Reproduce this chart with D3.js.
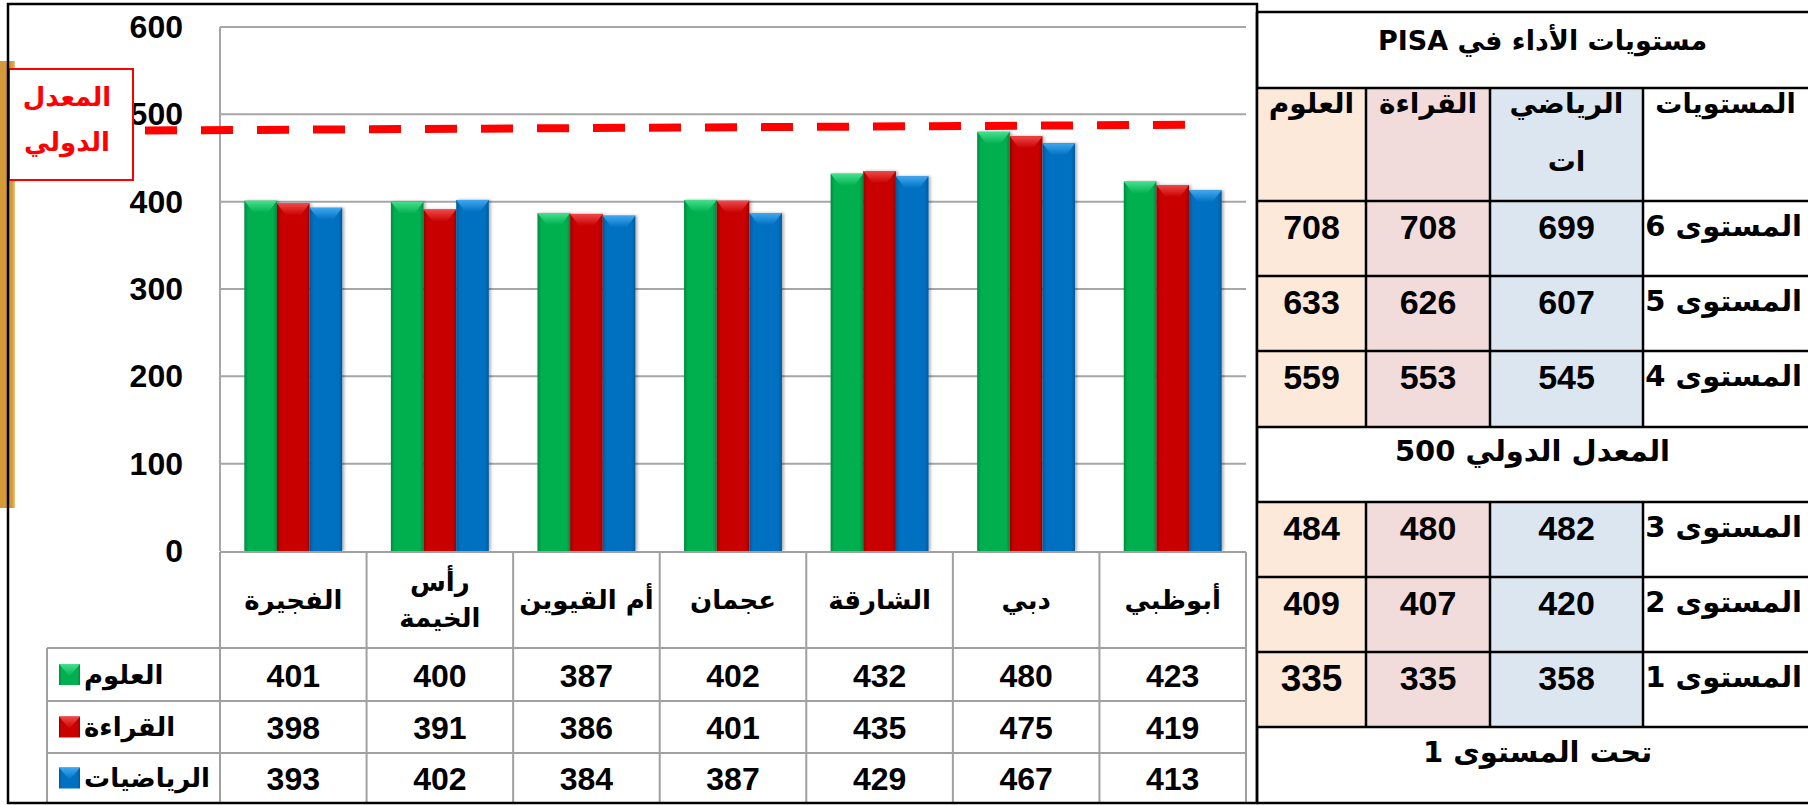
<!DOCTYPE html>
<html lang="ar">
<head>
<meta charset="utf-8">
<script src="https://cdn.jsdelivr.net/npm/d3@7"></script>
<style>
  html, body { margin: 0; padding: 0; background: #ffffff; }
  svg { display: block; }
  .num { font-family: "Liberation Sans", Arial, sans-serif; font-weight: bold; }
  .ar { font-family: "DejaVu Sans", "Noto Sans", sans-serif; font-weight: bold; }
</style>
</head>
<body>
<svg id="chart" width="1808" height="805"></svg>
<script>
// ---------------- DATA ----------------
const categories = ["الفجيرة", "رأس الخيمة", "أم القيوين", "عجمان", "الشارقة", "دبي", "أبوظبي"];
const categoryLabelLines = [["الفجيرة"], ["رأس", "الخيمة"], ["أم القيوين"], ["عجمان"], ["الشارقة"], ["دبي"], ["أبوظبي"]];
const seriesNames = ["العلوم", "القراءة", "الرياضيات"];
const scienceValues = [401, 400, 387, 402, 432, 480, 423];
const readingValues = [398, 391, 386, 401, 435, 475, 419];
const mathValues = [393, 402, 384, 387, 429, 467, 413];
const yTicks = [0, 100, 200, 300, 400, 500, 600];
const avgLineValues = [481.5, 488];   // hand-drawn "international average" dashed line (left end, right end)
const avgLabelLines = ["المعدل", "الدولي"];

const pisaTitle = "مستويات الأداء في PISA";
const pisaColumns = ["العلوم", "القراءة", "الرياضيات", "المستويات"];
const levelNames = ["المستوى 6", "المستوى 5", "المستوى 4", "المستوى 3", "المستوى 2", "المستوى 1"];
const levelScience = [708, 633, 559, 484, 409, 335];
const levelReading = [708, 626, 553, 480, 407, 335];
const levelMath = [699, 607, 545, 482, 420, 358];
const pisaAverageText = "المعدل الدولي 500";
const pisaBelowText = "تحت المستوى 1";

// ---------------- SETUP ----------------
const svg = d3.select("#chart");
const series = [
  { name: seriesNames[0], values: scienceValues, base: "#00B050", dark: "#00893F", light: "#45E08C" },
  { name: seriesNames[1], values: readingValues, base: "#C80000", dark: "#9A0000", light: "#F04848" },
  { name: seriesNames[2], values: mathValues, base: "#0070C0", dark: "#005A9C", light: "#40A8F0" }
];

const defs = svg.append("defs");
series.forEach((s, i) => {
  const g = defs.append("linearGradient").attr("id", "bar" + i).attr("x1", 0).attr("x2", 1).attr("y1", 0).attr("y2", 0);
  g.append("stop").attr("offset", "0%").attr("stop-color", s.dark);
  g.append("stop").attr("offset", "12%").attr("stop-color", s.base);
  g.append("stop").attr("offset", "88%").attr("stop-color", s.base);
  g.append("stop").attr("offset", "100%").attr("stop-color", s.dark);
  const t = defs.append("linearGradient").attr("id", "top" + i).attr("x1", 0).attr("x2", 0).attr("y1", 0).attr("y2", 1);
  t.append("stop").attr("offset", "0%").attr("stop-color", s.light);
  t.append("stop").attr("offset", "100%").attr("stop-color", s.base);
});
const og = defs.append("linearGradient").attr("id", "orange").attr("x1", 0).attr("x2", 1);
og.append("stop").attr("offset", "0%").attr("stop-color", "#D49A3A");
og.append("stop").attr("offset", "80%").attr("stop-color", "#D49A3A");
og.append("stop").attr("offset", "100%").attr("stop-color", "#E8C27E");
const sh = defs.append("filter").attr("id", "shadow").attr("x", "-20%").attr("y", "-5%").attr("width", "150%").attr("height", "110%");
sh.append("feDropShadow").attr("dx", 2).attr("dy", 0).attr("stdDeviation", 1.5).attr("flood-color", "#000").attr("flood-opacity", 0.3);

// ---------------- LAYOUT ----------------
const plotLeft = 220, plotRight = 1246, plotTop = 27, plotBottom = 551;
const tableRows = [552, 648, 701, 753, 803];
const legendLeft = 47;

const x0 = d3.scaleBand().domain(categories).range([plotLeft, plotRight]).padding(0);
const bw = x0.bandwidth();
const x1 = d3.scaleBand().domain(seriesNames).range([bw * 0.166, bw * 0.834]).padding(0);
const y = d3.scaleLinear().domain([0, 600]).range([plotBottom, plotTop]);

// orange strip on the far left
svg.append("rect").attr("x", 0).attr("y", 61).attr("width", 15).attr("height", 447).attr("fill", "url(#orange)");

// ---------------- GRID ----------------
svg.append("g").selectAll("line").data(yTicks.filter(t => t > 0)).join("line")
  .attr("x1", plotLeft).attr("x2", plotRight)
  .attr("y1", d => y(d)).attr("y2", d => y(d))
  .attr("stroke", "#A6A6A6").attr("stroke-width", 2);
svg.append("line").attr("x1", plotLeft).attr("x2", plotLeft).attr("y1", y(600)).attr("y2", y(0))
  .attr("stroke", "#A6A6A6").attr("stroke-width", 2);

// y-axis labels
svg.append("g").selectAll("text").data(yTicks).join("text")
  .attr("class", "num")
  .attr("x", 183).attr("y", d => y(d))
  .attr("text-anchor", "end").attr("dominant-baseline", "central")
  .attr("font-size", 32).attr("fill", "#000")
  .text(d => d);

// ---------------- BARS ----------------
const groups = svg.append("g").selectAll("g").data(categories).join("g")
  .attr("transform", d => `translate(${x0(d)},0)`);
series.forEach((s, si) => {
  const w = x1.bandwidth();
  const gx = x1(s.name);
  groups.append("rect")
    .attr("x", gx).attr("width", w)
    .attr("y", (d, i) => y(s.values[i]))
    .attr("height", (d, i) => y(0) - y(s.values[i]))
    .attr("fill", `url(#bar${si})`)
    .attr("filter", "url(#shadow)");
  groups.append("path")
    .attr("d", (d, i) => {
      const top = y(s.values[i]);
      const inset = w * 0.28, h = 12;
      return `M${gx},${top}L${gx + w},${top}L${gx + w - inset},${top + h}L${gx + inset},${top + h}Z`;
    })
    .attr("fill", `url(#top${si})`);
});

// ---------------- AVERAGE LINE ----------------
svg.append("line")
  .attr("x1", 145).attr("x2", 1185)
  .attr("y1", y(avgLineValues[0])).attr("y2", y(avgLineValues[1]))
  .attr("stroke", "#FF0000").attr("stroke-width", 8)
  .attr("stroke-dasharray", "32,24");

// label box
svg.append("rect").attr("x", 9).attr("y", 69).attr("width", 124).attr("height", 111)
  .attr("fill", "#fff").attr("stroke", "#FF0000").attr("stroke-width", 2);
svg.append("g").selectAll("text").data(avgLabelLines).join("text")
  .attr("class", "ar").attr("direction", "rtl")
  .attr("x", 67).attr("y", (d, i) => 97 + i * 45)
  .attr("text-anchor", "middle").attr("dominant-baseline", "central")
  .attr("font-size", 26).attr("fill", "#FF0000")
  .text(d => d);

// ---------------- DATA TABLE ----------------
const gridStroke = "#A0A0A0";
const tbl = svg.append("g");
tbl.append("line").attr("x1", plotLeft).attr("x2", plotRight).attr("y1", tableRows[0]).attr("y2", tableRows[0])
  .attr("stroke", gridStroke).attr("stroke-width", 2);
tbl.selectAll("line.h").data(tableRows.slice(1)).join("line").attr("class", "h")
  .attr("x1", legendLeft).attr("x2", plotRight).attr("y1", d => d).attr("y2", d => d)
  .attr("stroke", gridStroke).attr("stroke-width", 2);
const colEdges = categories.map(c => x0(c)).concat([plotRight]);
tbl.selectAll("line.v").data(colEdges).join("line").attr("class", "v")
  .attr("x1", d => d).attr("x2", d => d).attr("y1", tableRows[0]).attr("y2", tableRows[4])
  .attr("stroke", gridStroke).attr("stroke-width", 2);
tbl.append("line").attr("x1", legendLeft).attr("x2", legendLeft).attr("y1", tableRows[1]).attr("y2", tableRows[4])
  .attr("stroke", gridStroke).attr("stroke-width", 2);

// category labels
categories.forEach((c, ci) => {
  const lines = categoryLabelLines[ci];
  const cy = (tableRows[0] + tableRows[1]) / 2;
  tbl.append("g").selectAll("text").data(lines).join("text")
    .attr("class", "ar").attr("direction", "rtl")
    .attr("x", x0(c) + bw / 2)
    .attr("y", (d, i) => cy + (i - (lines.length - 1) / 2) * 36)
    .attr("text-anchor", "middle").attr("dominant-baseline", "central")
    .attr("font-size", 26).attr("fill", "#000")
    .text(d => d);
});

// value rows + legend
series.forEach((s, si) => {
  const cy = (tableRows[si + 1] + tableRows[si + 2]) / 2;
  tbl.append("g").selectAll("text").data(s.values).join("text")
    .attr("class", "num")
    .attr("x", (d, i) => x0(categories[i]) + bw / 2).attr("y", cy + 1)
    .attr("text-anchor", "middle").attr("dominant-baseline", "central")
    .attr("font-size", 32).attr("fill", "#000")
    .text(d => d);
  const sx = 59, ss = 21, sy = cy - ss / 2;
  tbl.append("rect").attr("x", sx).attr("y", sy).attr("width", ss).attr("height", ss).attr("fill", `url(#bar${si})`);
  tbl.append("path").attr("d", `M${sx},${sy}L${sx + ss},${sy}L${sx + ss / 2},${sy + ss * 0.6}Z`).attr("fill", `url(#top${si})`);
  tbl.append("text").attr("class", "ar").attr("direction", "rtl")
    .attr("x", 84).attr("y", cy).attr("text-anchor", "end").attr("dominant-baseline", "central")
    .attr("font-size", 26).attr("fill", "#000").text(s.name);
});

// chart frame
svg.append("rect").attr("x", 8).attr("y", 4).attr("width", 1249).attr("height", 799)
  .attr("fill", "none").attr("stroke", "#000").attr("stroke-width", 2.5);

// ---------------- PISA LEVELS TABLE ----------------
const pt = svg.append("g");
const pL = 1257, pR = 1810;
const pColEdges = [pL, 1366, 1490, 1643, pR];
const pColFills = ["#FDE9D9", "#F2DCDB", "#DCE6F1", "#FFFFFF"];
const rowEdges = [12, 88, 201, 276, 351, 427, 502, 577, 652, 727, 803];
const levelRowIdx = [2, 3, 4, 6, 7, 8];
const gridRows = [1].concat(levelRowIdx);

gridRows.forEach(r => {
  pColFills.forEach((f, ci) => {
    pt.append("rect").attr("x", pColEdges[ci]).attr("y", rowEdges[r])
      .attr("width", pColEdges[ci + 1] - pColEdges[ci]).attr("height", rowEdges[r + 1] - rowEdges[r])
      .attr("fill", f);
  });
});
pt.selectAll("line.h").data(rowEdges).join("line").attr("class", "h")
  .attr("x1", pL).attr("x2", pR).attr("y1", d => d).attr("y2", d => d)
  .attr("stroke", "#000").attr("stroke-width", 2.5);
gridRows.forEach(r => {
  pt.append("g").selectAll("line").data(pColEdges.slice(1, 4)).join("line")
    .attr("x1", d => d).attr("x2", d => d).attr("y1", rowEdges[r]).attr("y2", rowEdges[r + 1])
    .attr("stroke", "#000").attr("stroke-width", 2.5);
});
pt.append("line").attr("x1", pL).attr("x2", pL).attr("y1", rowEdges[0]).attr("y2", rowEdges[10])
  .attr("stroke", "#000").attr("stroke-width", 2.5);

const pCenter = (pL + 1808) / 2;
const colCenter = ci => (pColEdges[ci] + Math.min(pColEdges[ci + 1], 1808)) / 2;
pt.append("text").attr("class", "ar").attr("direction", "rtl")
  .attr("x", pCenter + 10).attr("y", 40).attr("text-anchor", "middle").attr("dominant-baseline", "central")
  .attr("font-size", 27).attr("fill", "#000").text(pisaTitle);
const headerLines = [["العلوم"], ["القراءة"], ["الرياضي", "ات"], ["المستويات"]];
headerLines.forEach((lines, ci) => {
  pt.append("g").selectAll("text").data(lines).join("text")
    .attr("class", "ar").attr("direction", "rtl")
    .attr("x", colCenter(ci)).attr("y", (d, i) => 103 + i * 58)
    .attr("text-anchor", "middle").attr("dominant-baseline", "central")
    .attr("font-size", ci === 3 ? 27 : 28).attr("fill", "#000").text(d => d);
});
const levelCols = [levelScience, levelReading, levelMath];
levelNames.forEach((ln, li) => {
  const r = levelRowIdx[li];
  const cy = rowEdges[r] + 25;
  levelCols.forEach((vals, ci) => {
    const big = (ci === 0 && li === 5);
    pt.append("text").attr("class", "num")
      .attr("x", colCenter(ci)).attr("y", cy + 1)
      .attr("text-anchor", "middle").attr("dominant-baseline", "central")
      .attr("font-size", big ? 37 : 34).attr("fill", "#000").text(vals[li]);
  });
  pt.append("text").attr("class", "ar").attr("direction", "rtl")
    .attr("x", 1802).attr("y", cy).attr("text-anchor", "start").attr("dominant-baseline", "central")
    .attr("font-size", 29).attr("fill", "#000").text(ln);
});
pt.append("text").attr("class", "ar").attr("direction", "rtl")
  .attr("x", pCenter).attr("y", rowEdges[5] + 24).attr("text-anchor", "middle").attr("dominant-baseline", "central")
  .attr("font-size", 29).attr("fill", "#000").text(pisaAverageText);
pt.append("text").attr("class", "ar").attr("direction", "rtl")
  .attr("x", pCenter + 5).attr("y", rowEdges[9] + 25).attr("text-anchor", "middle").attr("dominant-baseline", "central")
  .attr("font-size", 29).attr("fill", "#000").text(pisaBelowText);
</script>
</body>
</html>
